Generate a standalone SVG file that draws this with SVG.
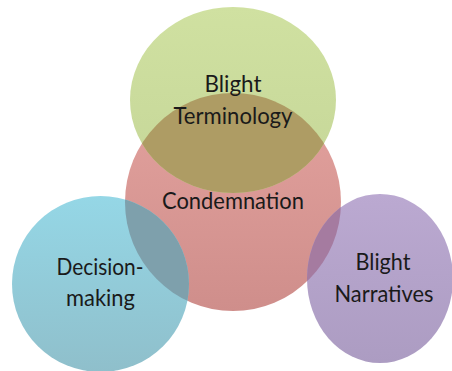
<svg xmlns="http://www.w3.org/2000/svg" width="452" height="371" viewBox="0 0 452 371">
<defs>
<linearGradient id="gGreen" x1="0" y1="0" x2="0" y2="1"><stop offset="0" stop-color="#d0e1a1"/><stop offset="1" stop-color="#c5d698"/></linearGradient>
<linearGradient id="gRed" x1="0" y1="0" x2="0" y2="1"><stop offset="0" stop-color="#e3a29e"/><stop offset="1" stop-color="#cf8e8b"/></linearGradient>
<linearGradient id="gBlue" x1="0" y1="0" x2="0" y2="1"><stop offset="0" stop-color="#95d7e6"/><stop offset="1" stop-color="#8fbfcb"/></linearGradient>
<linearGradient id="gPurple" x1="0" y1="0" x2="0" y2="1"><stop offset="0" stop-color="#bba9d1"/><stop offset="1" stop-color="#ac9cc2"/></linearGradient>
<clipPath id="clipRed"><ellipse cx="233" cy="202" rx="108" ry="109"/></clipPath>
<style>
text{font-family:Lato,"Open Sans","Liberation Sans",sans-serif;font-size:23px;fill:#1a1a1a;text-anchor:middle}
</style>
</defs>
<g id="condemnation">
<ellipse cx="233" cy="202" rx="108" ry="109" fill="url(#gRed)"/>
</g>
<g id="blight-terminology">
<ellipse cx="233" cy="100" rx="103" ry="93" fill="url(#gGreen)"/>
<ellipse cx="233" cy="100" rx="103" ry="93" fill="#ae9c64" clip-path="url(#clipRed)"/>
<text x="233" y="92" textLength="57" lengthAdjust="spacingAndGlyphs">Blight</text>
<text x="233" y="124" textLength="119" lengthAdjust="spacingAndGlyphs">Terminology</text>
</g>
<g id="decision-making">
<ellipse cx="100.5" cy="284" rx="88.5" ry="88" fill="url(#gBlue)"/>
<ellipse cx="100.5" cy="284" rx="88.5" ry="88" fill="#7ea0ac" clip-path="url(#clipRed)"/>
<text x="100" y="275" textLength="87" lengthAdjust="spacingAndGlyphs">Decision-</text>
<text x="100.5" y="306" textLength="69" lengthAdjust="spacingAndGlyphs">making</text>
</g>
<g id="blight-narratives">
<ellipse cx="380" cy="278.5" rx="73" ry="84.5" fill="url(#gPurple)"/>
<ellipse cx="380" cy="278.5" rx="73" ry="84.5" fill="#a57ba0" clip-path="url(#clipRed)"/>
<text x="383" y="270" textLength="55" lengthAdjust="spacingAndGlyphs">Blight</text>
<text x="384" y="302" textLength="99" lengthAdjust="spacingAndGlyphs">Narratives</text>
</g>
<g id="condemnation-label">
<text x="233" y="209" textLength="142" lengthAdjust="spacingAndGlyphs">Condemnation</text>
</g>
<g id="connectors"/>
</svg>
